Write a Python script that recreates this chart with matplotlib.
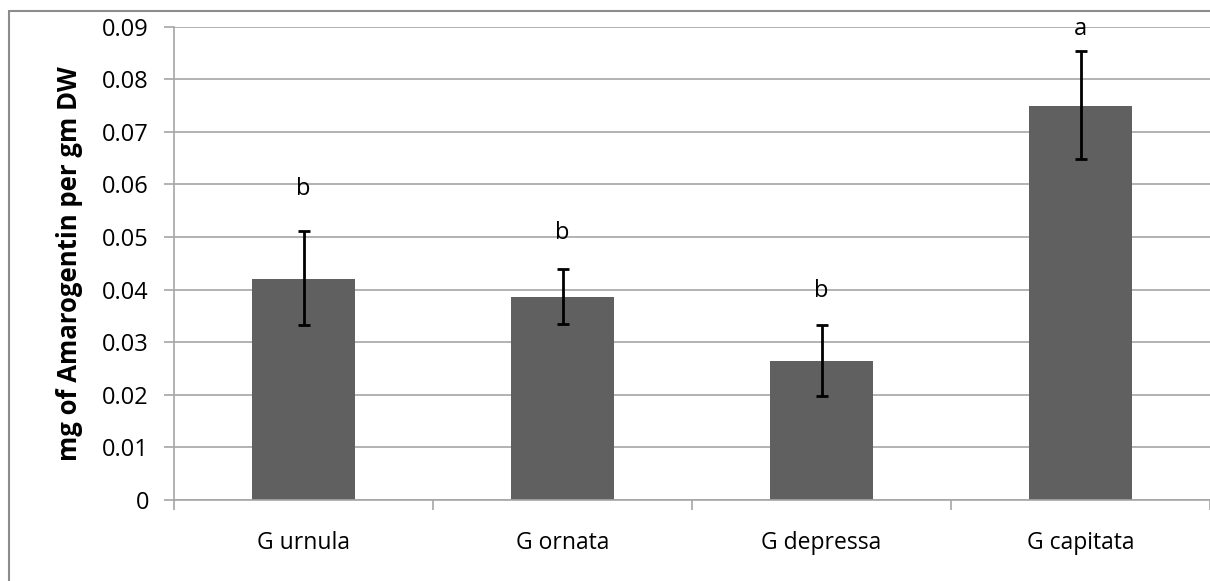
import matplotlib
matplotlib.use("Agg")
import matplotlib.pyplot as plt
from matplotlib.patches import Rectangle
import numpy as np

species = ["G urnula", "G ornata", "G depressa", "G capitata"]
amarogentin = [0.0421, 0.0386, 0.0265, 0.0750]
err_low = [0.0332, 0.0334, 0.0198, 0.0648]
err_high = [0.0512, 0.0439, 0.0332, 0.0853]
letters = ["b", "b", "b", "a"]
letter_y = [0.0592, 0.0508, 0.0398, 0.0896]

plt.rcParams["font.family"] = ["Open Sans", "DejaVu Sans"]

W, H = 1210, 581
fig = plt.figure(figsize=(W / 100, H / 100), dpi=100)
ax = fig.add_axes([174 / W, (H - 500) / H, (W - 174) / W, (500 - 26.7) / H])

x = np.arange(len(species))
vals = np.array(amarogentin)
yerr = [vals - np.array(err_low), np.array(err_high) - vals]

ax.bar(x, vals, width=0.4, color="#606060", zorder=2)
ax.errorbar(x, vals, yerr=yerr, fmt="none", ecolor="black",
            elinewidth=2.0, capsize=4.3, capthick=2.0, zorder=3)
for xi, lab, ly in zip(x, letters, letter_y):
    ax.text(xi, ly, lab, ha="center", va="center", fontsize=17, zorder=4)

ax.set_xlim(-0.5, len(species) - 0.5)
ax.set_ylim(0, 0.09)
ax.set_yticks(np.arange(0, 0.091, 0.01))
ax.set_yticklabels(["0"] + [f"{v:.2f}" for v in np.arange(0.01, 0.091, 0.01)])
ax.yaxis.grid(True, color="#a6a6a6", linewidth=1.2, zorder=0)
ax.set_axisbelow(True)

ax.set_xticks(np.arange(-0.5, len(species), 1.0))
ax.set_xticklabels([])
ax.set_xticks(x, minor=True)
ax.set_xticklabels(species, minor=True)
ax.tick_params(axis="x", which="major", length=7, color="#a6a6a6", width=1.2)
ax.tick_params(axis="x", which="minor", length=0, pad=22, labelsize=16.5)
ax.tick_params(axis="y", length=7, color="#a6a6a6", width=1.2, pad=11, labelsize=17)

for side in ["top", "right"]:
    ax.spines[side].set_visible(False)
for side in ["left", "bottom"]:
    ax.spines[side].set_color("#a6a6a6")
    ax.spines[side].set_linewidth(1.2)

ax.set_ylabel("mg of Amarogentin per gm DW", fontsize=18.5, fontweight="bold", labelpad=14)

# outer chart frame
fig.patches.append(Rectangle((9 / W, -0.1), 1.2, (H - 11) / H + 0.1,
                             transform=fig.transFigure, fill=False,
                             edgecolor="#8c8c8c", linewidth=1.5))

fig.savefig("out.png", dpi=100)
